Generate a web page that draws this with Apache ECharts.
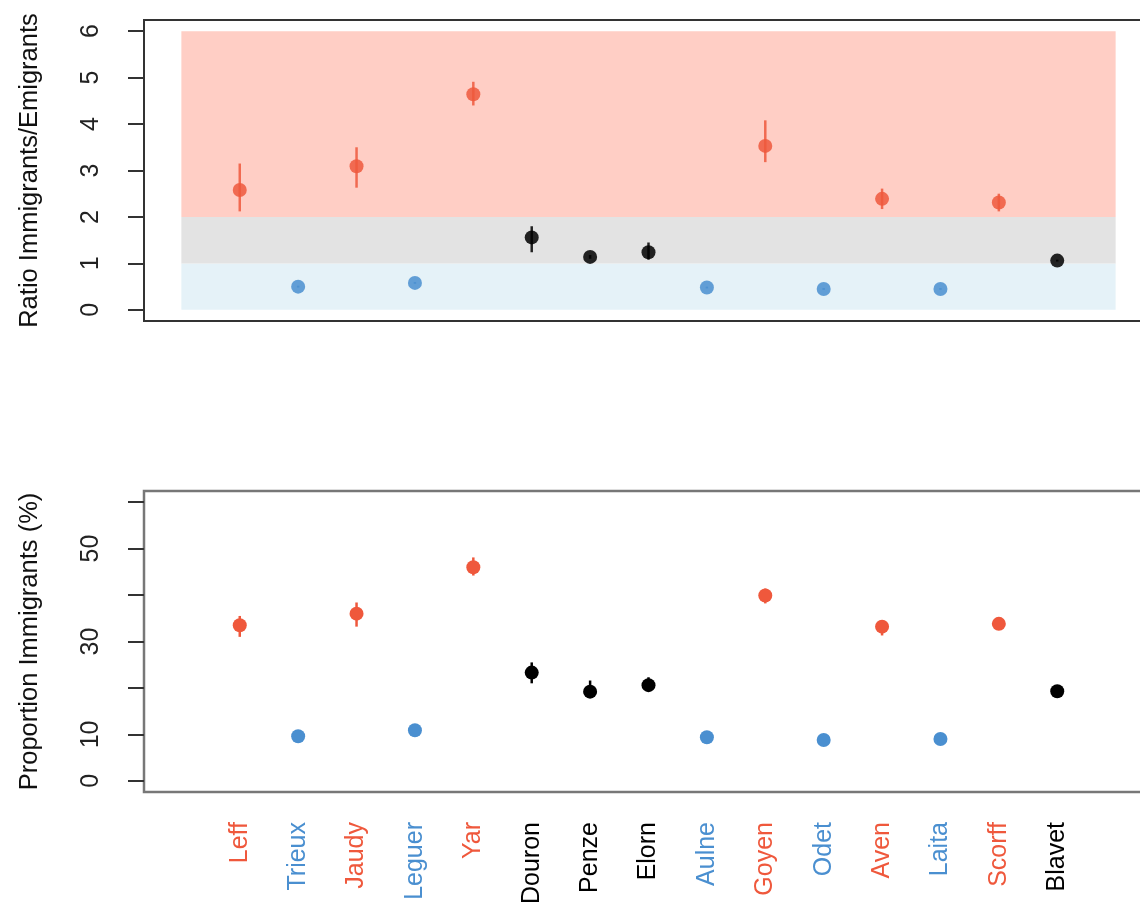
<!DOCTYPE html>
<html>
<head>
<meta charset="utf-8">
<title>Immigrants / Emigrants</title>
<script src="https://cdn.jsdelivr.net/npm/echarts@6/dist/echarts.min.js"></script>
<style>
    html, body { margin: 0; padding: 0; background: #fff; }
    #chart { width: 1140px; height: 904px; }
</style>
</head>
<body>
<div id="chart"></div>
<script>
// rivers, in plotting order
var sites = ['Leff', 'Trieux', 'Jaudy', 'Leguer', 'Yar', 'Douron', 'Penze', 'Elorn',
    'Aulne', 'Goyen', 'Odet', 'Aven', 'Laita', 'Scorff', 'Blavet'];
// sink = more immigrants, source = more emigrants, neutral = in between
var groups = ['sink', 'source', 'sink', 'source', 'sink', 'neutral', 'neutral', 'neutral',
    'source', 'sink', 'source', 'sink', 'source', 'sink', 'neutral'];

// ratio immigrants / emigrants (top panel)
var ratio = [2.58, 0.50, 3.09, 0.58, 4.64, 1.56, 1.14, 1.24, 0.48, 3.53, 0.45, 2.39, 0.45, 2.31, 1.06];
var ratioLow = [2.12, 0.48, 2.63, 0.56, 4.40, 1.24, 1.10, 1.08, 0.46, 3.18, 0.43, 2.17, 0.43, 2.12, 1.04];
var ratioHigh = [3.15, 0.52, 3.50, 0.60, 4.91, 1.80, 1.18, 1.45, 0.50, 4.08, 0.47, 2.61, 0.47, 2.50, 1.08];

// proportion of immigrants in % (bottom panel)
var prop = [33.5, 9.6, 36.0, 10.9, 46.0, 23.3, 19.2, 20.6, 9.4, 39.9, 8.8, 33.2, 9.0, 33.8, 19.3];
var propLow = [31.0, 9.0, 33.2, 10.3, 44.2, 21.0, 18.0, 19.8, 8.8, 38.2, 8.2, 31.3, 8.4, 33.2, 18.7];
var propHigh = [35.5, 10.2, 38.4, 11.5, 48.1, 25.5, 21.6, 22.3, 10.0, 41.4, 9.4, 34.6, 9.6, 34.4, 19.9];

// tick labels
var ratioTicks = [0, 1, 2, 3, 4, 5, 6];
var propTicks = [0, 10, 20, 30, 40, 50, 60];
var propLabels = [0, 10, 30, 50];

// background zones of the ratio panel: [from, to]
var zones = [[0, 1], [1, 2], [2, 6]];
var zoneColors = ['#e5f2f8', '#e3e3e3', '#ffcec5'];

var colors = { sink: '#ef583c', source: '#4a8fd0', neutral: '#000000' };
var FONT = 'Liberation Sans, Arial, Helvetica, sans-serif';

var xs = sites.map(function (s, i) { return i + 1; });

function points(vals) {
    return vals.map(function (v, i) {
        return { value: [xs[i], v], itemStyle: { color: colors[groups[i]] } };
    });
}

function bars(lo, hi) {
    return lo.map(function (v, i) { return [xs[i], v, hi[i]]; });
}

function errorBar(alpha) {
    return function (params, api) {
        var x = api.value(0);
        var p1 = api.coord([x, api.value(1)]);
        var p2 = api.coord([x, api.value(2)]);
        return {
            type: 'line',
            shape: { x1: p1[0], y1: p1[1], x2: p2[0], y2: p2[1] },
            style: { stroke: colors[groups[params.dataIndex]], lineWidth: 2.5, opacity: alpha }
        };
    };
}

function yAxisBase(name, gridIndex, min, max, ticks, labels) {
    return {
        type: 'value',
        gridIndex: gridIndex,
        min: min,
        max: max,
        name: name,
        nameLocation: 'middle',
        nameRotate: 90,
        nameGap: 101,
        nameTextStyle: { fontFamily: FONT, fontSize: 25.5, color: '#111' },
        axisLine: { show: false, onZero: false },
        splitLine: { show: false },
        axisTick: {
            show: true, length: 16, customValues: ticks,
            lineStyle: { color: '#333', width: 2 }
        },
        axisLabel: {
            rotate: 90, margin: 40, customValues: labels,
            fontFamily: FONT, fontSize: 25, color: '#222'
        }
    };
}

var zoneData = zones.map(function (z, i) {
    return [
        { xAxis: 0, yAxis: z[0], itemStyle: { color: zoneColors[i], opacity: 1 } },
        { xAxis: sites.length + 1, yAxis: z[1] }
    ];
});

var option = {
    backgroundColor: '#fff',
    animation: false,
    grid: [
        {
            left: 144, top: 20, width: 1009, height: 301, outerBoundsMode: 'none',
            show: true, borderColor: '#333', borderWidth: 2
        },
        {
            left: 144, top: 491, width: 1009, height: 301, outerBoundsMode: 'none',
            show: true, borderColor: '#777', borderWidth: 2.5
        }
    ],
    xAxis: [
        { type: 'value', gridIndex: 0, min: -0.64, max: 16.64, show: false },
        {
            type: 'value', gridIndex: 1, min: -0.64, max: 16.64,
            axisLine: { show: false, onZero: false },
            axisTick: { show: false },
            splitLine: { show: false },
            axisLabel: {
                rotate: 90, margin: 30, customValues: xs,
                fontFamily: FONT, fontSize: 25,
                formatter: function (v) { return sites[Math.round(v) - 1]; },
                color: function (v) { return colors[groups[Math.round(+v) - 1]]; }
            }
        }
    ],
    yAxis: [
        yAxisBase('Ratio Immigrants/Emigrants', 0, -0.24, 6.24, ratioTicks, ratioTicks),
        yAxisBase('Proportion Immigrants (%)', 1, -2.4, 62.4, propTicks, propLabels)
    ],
    series: [
        {
            type: 'scatter', xAxisIndex: 0, yAxisIndex: 0, data: [], silent: true,
            markArea: { silent: true, data: zoneData }
        },
        {
            type: 'custom', xAxisIndex: 0, yAxisIndex: 0,
            renderItem: errorBar(0.85), data: bars(ratioLow, ratioHigh), z: 3
        },
        {
            type: 'scatter', xAxisIndex: 0, yAxisIndex: 0, symbolSize: 14,
            itemStyle: { opacity: 0.85 }, data: points(ratio), z: 4
        },
        {
            type: 'custom', xAxisIndex: 1, yAxisIndex: 1,
            renderItem: errorBar(1), data: bars(propLow, propHigh), z: 3
        },
        {
            type: 'scatter', xAxisIndex: 1, yAxisIndex: 1, symbolSize: 14,
            itemStyle: { opacity: 1 }, data: points(prop), z: 4
        }
    ]
};

echarts.init(document.getElementById('chart')).setOption(option);
</script>
</body>
</html>
